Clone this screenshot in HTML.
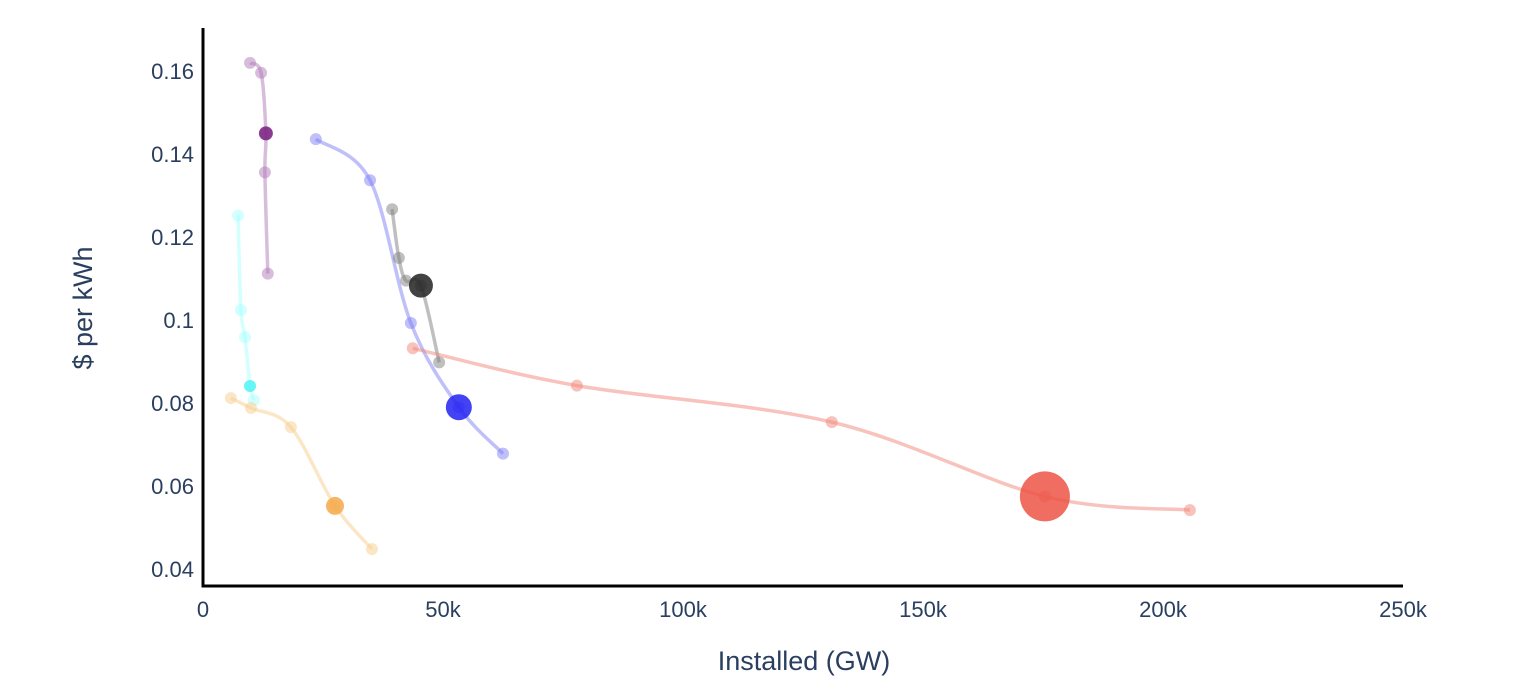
<!DOCTYPE html>
<html><head><meta charset="utf-8">
<style>
html,body{margin:0;padding:0;background:#fff;}
svg{display:block;font-family:"Liberation Sans",sans-serif;}
</style></head>
<body>
<svg id="chart" width="1514" height="698" viewBox="0 0 1514 698" xmlns="http://www.w3.org/2000/svg">
<rect width="1514" height="698" fill="#fff"/>
<g id="plot"></g>
<g id="axes"></g>
</svg>
<script>
const xTicks=[0,50000,100000,150000,200000,250000];
const xTickLabels=["0","50k","100k","150k","200k","250k"];
const yTicks=[0.04,0.06,0.08,0.1,0.12,0.14,0.16];
const yTickLabels=["0.04","0.06","0.08","0.1","0.12","0.14","0.16"];
const seriesNames=["purple","cyan","orange","blue","gray","red"];
const seriesColors=["#b07cb8","#a8ffff","#f8cf8f","#7f7ff5","#808080","#f2877a"];
const highlightColors=["#7b2383","#55f5f5","#f4a94a","#2222f2","#222222","#ec5545"];
const purpleX=[9800,12100,13100,12900,13500];
const purpleY=[0.162,0.1596,0.145,0.1356,0.1112];
const cyanX=[7300,7900,8750,9800,10600];
const cyanY=[0.1252,0.1024,0.0959,0.0841,0.0807];
const orangeX=[5800,10000,18300,27500,35200];
const orangeY=[0.0812,0.0788,0.0742,0.0552,0.0448];
const blueX=[23500,34800,43300,53300,62500];
const blueY=[0.1436,0.1337,0.0993,0.079,0.0678];
const grayX=[39400,40800,42300,45400,49200];
const grayY=[0.1267,0.115,0.1095,0.1083,0.0898];
const redX=[43700,77900,131000,175400,205600];
const redY=[0.0932,0.0842,0.0754,0.0575,0.0542];
const highlightIndex=[2,3,3,3,3,3];
const highlightRadius=[7,6,9,13,12,25];

const X0=203,X1=1403,Y0=586,Y1=28;
const xMin=0,xMax=250000,yMin=0.0359,yMax=0.1704;
const sx=v=>X0+(v-xMin)/(xMax-xMin)*(X1-X0);
const sy=v=>Y0-(v-yMin)/(yMax-yMin)*(Y0-Y1);
const NS="http://www.w3.org/2000/svg";
const plot=document.getElementById('plot'),axes=document.getElementById('axes');
function mk(tag,attrs,parent){const e=document.createElementNS(NS,tag);for(const k in attrs)e.setAttribute(k,attrs[k]);parent.appendChild(e);return e;}

const allX=[purpleX,cyanX,orangeX,blueX,grayX,redX];
const allY=[purpleY,cyanY,orangeY,blueY,grayY,redY];
function spline(p){let d=`M${p[0][0]},${p[0][1]}`;for(let i=0;i<p.length-1;i++){const a=p[Math.max(i-1,0)],b=p[i],c=p[i+1],e=p[Math.min(i+2,p.length-1)];
const c1=[b[0]+(c[0]-a[0])/6,b[1]+(c[1]-a[1])/6],c2=[c[0]-(e[0]-b[0])/6,c[1]-(e[1]-b[1])/6];d+=` C${c1[0]},${c1[1]} ${c2[0]},${c2[1]} ${c[0]},${c[1]}`;}return d;}
allX.forEach((xs,s)=>{
  const g=mk('g',{},plot);
  
  
  const pts=xs.map((v,i)=>[sx(v),sy(allY[s][i])]);
  const path=mk('path',{d:spline(pts),fill:'none',stroke:seriesColors[s],'stroke-width':3.5,'stroke-opacity':0.5},g);
  
  
  pts.forEach((p,i)=>{
    const c=mk('circle',{cx:p[0],cy:p[1],r:6,fill:seriesColors[s],'fill-opacity':0.5},g);
    
    
  });
  const hi=highlightIndex[s];
  const h=mk('circle',{cx:pts[hi][0],cy:pts[hi][1],r:highlightRadius[s],fill:highlightColors[s],'fill-opacity':0.85},g);
  
  
});

const ya=mk('line',{x1:X0,y1:Y1,x2:X0,y2:Y0+1.5,stroke:'#000','stroke-width':3},axes);


const xa=mk('line',{x1:X0-1.5,y1:Y0,x2:X1,y2:Y0,stroke:'#000','stroke-width':3},axes);


xTicks.forEach((v,i)=>{
  const t=mk('text',{x:sx(v),y:617,'text-anchor':'middle','font-size':22,fill:'#2a3f5f'},axes);
  t.textContent=xTickLabels[i];
  
  
});
yTicks.forEach((v,i)=>{
  const t=mk('text',{x:194,y:sy(v)+8,'text-anchor':'end','font-size':22,fill:'#2a3f5f'},axes);
  t.textContent=yTickLabels[i];
  
  
});
const xt=mk('text',{x:804,y:670,'text-anchor':'middle','font-size':27,fill:'#2a3f5f'},axes);
xt.textContent='Installed (GW)';


const yt=mk('text',{x:0,y:0,'text-anchor':'middle','font-size':27,fill:'#2a3f5f',transform:'translate(92,308) rotate(-90)'},axes);
yt.textContent='$ per kWh';


</script>
</body></html>
